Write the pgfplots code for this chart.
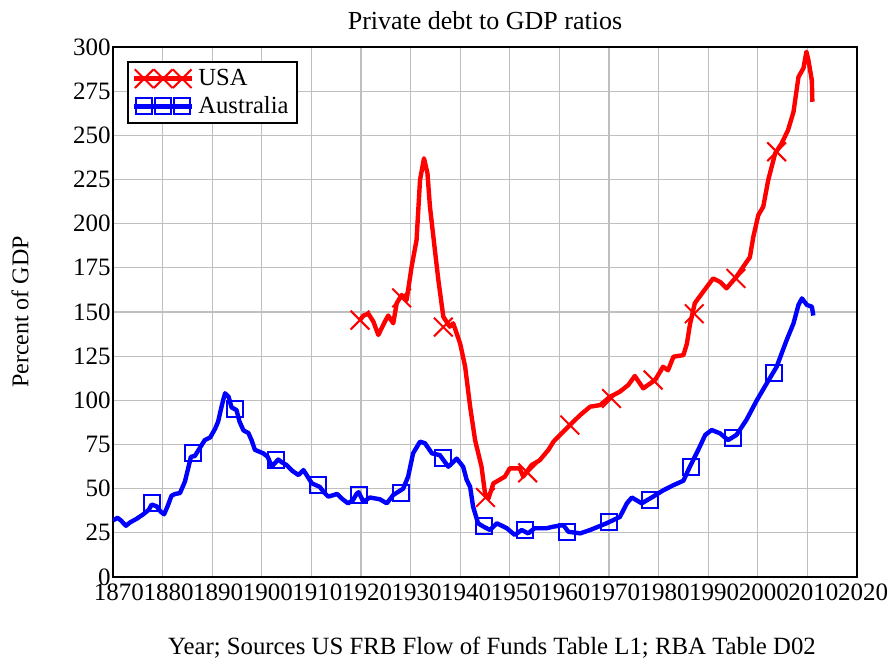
\documentclass[border=0pt]{standalone}
\usepackage{fontspec}
\setmainfont{Liberation Serif}
\usepackage{pgfplots}
\pgfplotsset{compat=1.18}

\begin{document}
\begin{tikzpicture}
\begin{axis}[
    name=ax,
    at={(0,0)}, anchor=south west,
    scale only axis,
    width=372pt, height=265pt,
    xmin=1870, xmax=2020,
    ymin=0, ymax=300,
    xtick={1870,1880,...,2020},
    ytick={0,25,...,300},
    /pgf/number format/assume math mode=true,
    xticklabel={\pgfmathprintnumber[1000 sep={},fixed]{\tick}},
    tick label style={font=\fontsize{12.5}{14}\selectfont},
    yticklabel style={anchor=east, inner xsep=1pt},
    xticklabel style={xshift=3pt},
    major tick style={draw=none},
    grid=major,
    grid style={color=black!25, line width=0.6pt},
    axis line style={line width=1pt},
    legend style={at={(0,1)}, anchor=north west, xshift=7pt, yshift=-7pt,
        draw=black, line width=1pt, font=\fontsize{12.3}{14}\selectfont,
        inner xsep=2pt, inner ysep=1.5pt, row sep=0pt},
    legend cell align=left,
  ]

  % USA
  \addplot[red, line width=2.2pt, line join=round, forget plot] table {
    1919.8 145.4
    1920.5 148
    1921.5 149
    1922.5 144.5
    1923.5 137
    1924.8 144.5
    1925.5 148
    1926.5 143.6
    1927.2 155
    1928.2 159.6
    1929.2 156.8
    1930.2 175.6
    1931.2 190.7
    1931.9 224.7
    1932.7 237
    1933.4 228.5
    1933.9 209.6
    1934.9 185
    1935.6 168
    1936.6 147.3
    1937.9 141.7
    1938.6 143.6
    1940.0 132
    1941.0 119
    1942.0 96.4
    1943.0 77.5
    1944.3 62.4
    1945.0 47.4
    1945.7 44.5
    1946.7 53
    1949.0 56.8
    1950.0 61.5
    1952.0 61.5
    1952.7 56.8
    1954.4 63.4
    1956.0 66
    1957.8 72
    1958.8 76.6
    1962.1 86
    1964.2 91.7
    1966.2 96.4
    1968.2 97.3
    1970.2 102
    1972.2 104.9
    1973.9 108.7
    1975.2 113.8
    1976.9 106.8
    1979.3 111.5
    1980.9 119
    1981.9 117
    1983.0 124.7
    1985.0 125.6
    1985.7 132
    1986.3 142.6
    1987.3 155
    1989.0 161.5
    1991.0 169
    1992.4 167
    1993.7 163.4
    1995.7 170
    1998.0 179.4
    1998.4 181
    1999.1 192.6
    2000.1 204.8
    2001.1 209.6
    2002.1 224.7
    2003.5 239.8
    2004.8 245.4
    2006.1 253
    2007.2 263.3
    2008.2 283
    2009.2 288
    2009.8 297.3
    2010.2 292.6
    2010.9 281
    2011.0 269
  };
  \addplot[red, only marks, mark=x, mark size=6.6pt, line width=1pt, forget plot] coordinates {
    (1919.8,145.4) (1928.2,158) (1936.6,141.5) (1945.1,45) (1953.6,59)
    (1962.1,86) (1970.5,101) (1978.9,111.5) (1987.2,149) (1995.6,169) (2003.8,240.7)
  };

  % Australia
  \addplot[blue, line width=2.2pt, line join=round, forget plot] table {
    1870.0 32
    1870.9 33.5
    1871.6 32
    1872.6 29
    1873.5 31
    1874.8 33
    1876.1 35.5
    1877.2 38
    1877.8 41
    1878.8 40
    1879.6 37
    1880.3 35.5
    1881.0 40
    1881.8 46
    1882.5 47
    1883.5 47.5
    1884.5 54
    1885.2 62
    1885.7 68
    1886.5 68.5
    1887.5 73
    1888.5 77.5
    1889.6 79
    1890.6 84
    1891.2 88
    1891.6 93
    1892.2 100
    1892.6 104
    1893.3 102
    1893.9 96
    1894.9 94.5
    1895.5 88
    1896.3 83
    1897.3 81.5
    1898.0 77
    1898.6 72
    1900.3 70
    1901.2 68
    1902.0 62.5
    1903.3 66.5
    1904.0 65
    1905.0 63.4
    1906.2 60
    1907.4 57.7
    1908.4 60.5
    1909.2 57
    1910.1 53
    1911.7 51
    1912.5 48
    1913.4 45.5
    1915.2 47
    1916.3 44
    1917.4 41.7
    1918.4 43.6
    1919.1 47
    1919.5 48
    1920.5 42.6
    1921.8 45
    1923.8 44
    1925.2 41.7
    1926.5 46.4
    1928.5 50
    1929.5 56.8
    1930.5 70
    1931.9 76.6
    1932.9 75.7
    1934.3 70
    1935.9 69
    1937.6 62.4
    1939.3 67
    1940.6 62.4
    1941.3 55
    1942.0 51
    1942.6 39.8
    1943.6 30.4
    1944.7 28.5
    1946.0 26.6
    1947.4 30.4
    1949.4 27.6
    1951.0 23.8
    1952.4 26.6
    1953.7 24.7
    1955.0 27.6
    1957.4 27.6
    1958.8 28.5
    1960.8 29.4
    1961.8 25.6
    1964.2 24.7
    1966.2 26.6
    1969.5 30.4
    1972.2 34
    1973.6 41.7
    1974.6 45
    1976.6 41.7
    1978.9 45.5
    1980.9 49
    1983.0 52
    1985.0 54.5
    1986.3 62.4
    1988.0 72
    1989.4 80.4
    1990.7 83.2
    1992.4 81.3
    1994.0 77.5
    1995.7 80.4
    1997.7 88.9
    1999.8 100
    2001.8 109.6
    2003.8 119
    2005.8 134
    2007.2 143.6
    2008.2 154
    2008.9 157.7
    2009.9 154
    2010.9 153
    2011.2 148
  };
  \addplot[blue, only marks, mark=square, mark size=4pt, line width=1pt, forget plot] coordinates {
    (1877.8,41.7) (1886.2,70.3) (1894.5,94.9) (1902.8,66.2) (1911.3,52)
    (1919.6,46.4) (1928.1,47.7) (1936.5,67.2) (1944.8,28.9) (1953.1,26.6)
    (1961.5,25.6) (1969.9,31) (1978.2,43.6) (1986.5,62.1) (1994.9,78.5) (2003.2,115.3)
  };

  \addlegendimage{legend image code/.code={
      \draw[red, line width=2.2pt] (0pt,0pt) -- (29pt,0pt);
      \draw[red, line width=1pt] plot[mark=x, mark size=6.6pt, only marks]
        coordinates {(5pt,0pt) (14.5pt,0pt) (24pt,0pt)};
  }}
  \addlegendentry{USA}
  \addlegendimage{legend image code/.code={
      \draw[blue, line width=2.2pt] (0pt,0pt) -- (29pt,0pt);
      \draw[blue, line width=1pt] plot[mark=square, mark size=4pt, only marks]
        coordinates {(5pt,0pt) (14.5pt,0pt) (24pt,0pt)};
  }}
  \addlegendentry{Australia}
\end{axis}

\node[font=\fontsize{13}{15}\selectfont, yshift=13pt] at (ax.north) {Private debt to GDP ratios};
\node[font=\fontsize{12.4}{14}\selectfont, yshift=-35.5pt, xshift=3.5pt] at (ax.south)
  {Year; Sources US FRB Flow of Funds Table L1; RBA Table D02};
\node[font=\fontsize{12}{14}\selectfont, rotate=90] at ([xshift=-46.5pt]ax.west) {Percent of GDP};

\pgfresetboundingbox
\path[use as bounding box] (-56.5pt,-41pt) rectangle (391pt,288.5pt);
\end{tikzpicture}
\end{document}
